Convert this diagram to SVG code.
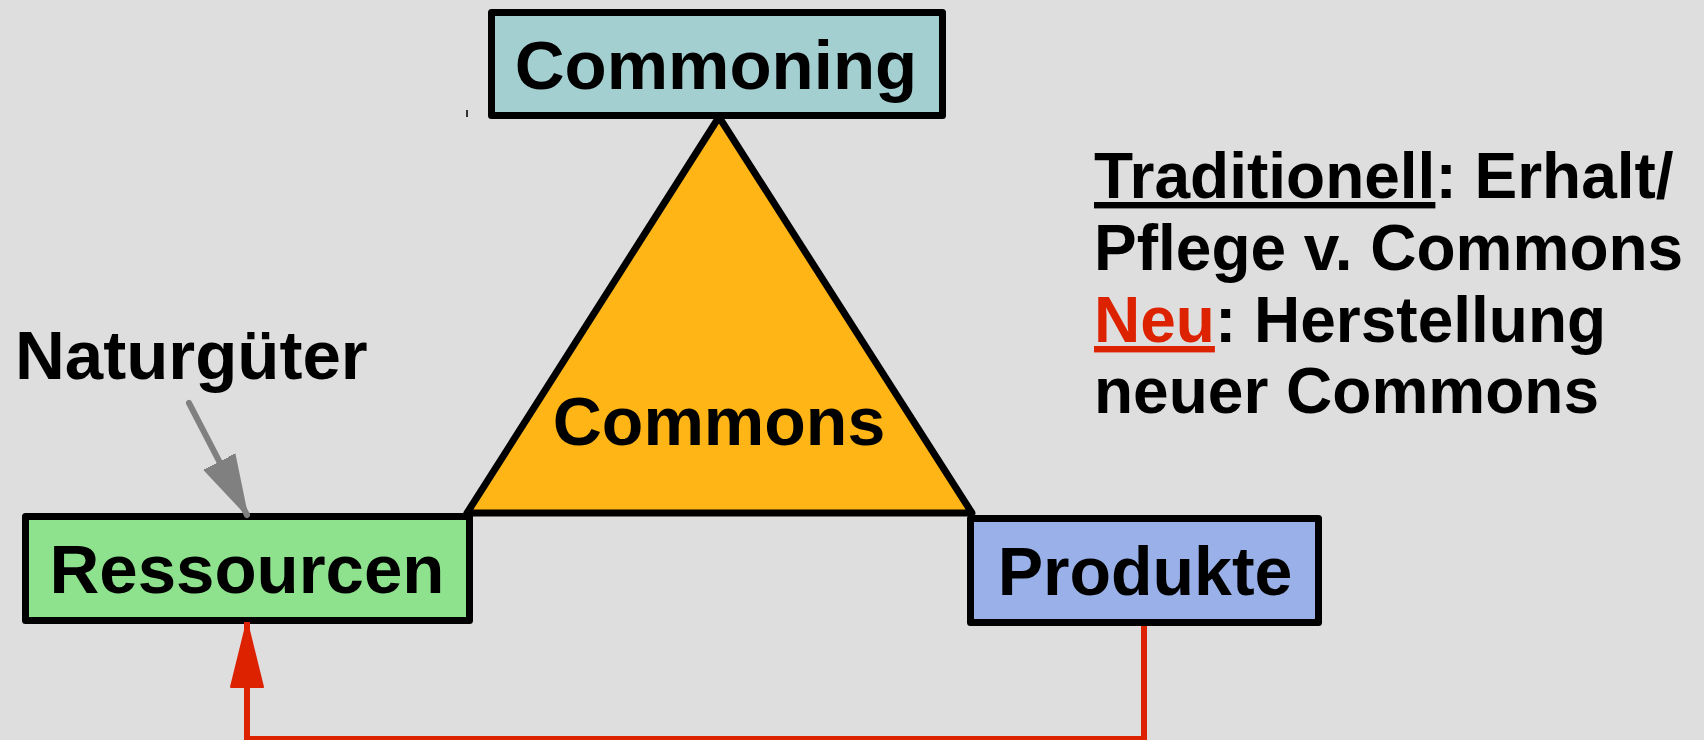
<svg xmlns="http://www.w3.org/2000/svg" width="1704" height="740" viewBox="0 0 1704 740">
<style>
.bg{fill:#dedede}
.box{stroke:#000;stroke-width:7;stroke-linejoin:round}
.lbl{font-family:"Liberation Sans",Arial,sans-serif;font-weight:bold;fill:#000}
.red{stroke:#dd2200;stroke-width:6;fill:none}
</style>
<defs>
<marker id="grayHead" markerUnits="userSpaceOnUse" viewBox="0 0 60 40" refX="60" refY="20" markerWidth="60" markerHeight="40" orient="auto">
<path d="M0,3 L60,20 L0,37 Z" fill="#808080" stroke="#808080" stroke-width="2" stroke-linejoin="round"/>
</marker>
<marker id="redHead" markerUnits="userSpaceOnUse" viewBox="0 0 66 34" refX="66" refY="17" markerWidth="66" markerHeight="34" orient="auto">
<path d="M1,1 L66,17 L1,33 Z" fill="#dd2200" stroke="#dd2200" stroke-width="2" stroke-linejoin="round"/>
</marker>
</defs>
<rect class="bg" x="0" y="0" width="1704" height="740"/>
<rect x="466" y="110" width="2" height="7" fill="#333"/>
<g id="commons">
<polygon points="719,117 467,513 972,513" fill="#feb515" stroke="#000" stroke-width="7" stroke-linejoin="round"/>
<text class="lbl" x="719" y="445" font-size="68" text-anchor="middle">Commons</text>
</g>
<g id="commoning">
<rect class="box" x="491.5" y="12.5" width="451" height="103" fill="#a3cfd1"/>
<text class="lbl" x="716" y="89" font-size="69" text-anchor="middle">Commoning</text>
</g>
<g id="ressourcen">
<rect class="box" x="25.5" y="516.5" width="444" height="104" fill="#8ee28e"/>
<text class="lbl" x="247" y="593" font-size="69" text-anchor="middle">Ressourcen</text>
</g>
<g id="produkte">
<rect class="box" x="970.5" y="518.5" width="348" height="104" fill="#99b1e8"/>
<text class="lbl" x="1145" y="595" font-size="68" text-anchor="middle">Produkte</text>
</g>
<g id="naturgueter">
<text class="lbl" x="15" y="379" font-size="69">Naturgüter</text>
</g>
<g id="notes">
<text class="lbl" x="1094" y="198" font-size="64"><tspan text-decoration="underline">Traditionell</tspan>: Erhalt/</text>
<text class="lbl" x="1094" y="270" font-size="64">Pflege v. Commons</text>
<text class="lbl" x="1094" y="342" font-size="64"><tspan fill="#dd2200" text-decoration="underline">Neu</tspan>: Herstellung</text>
<text class="lbl" x="1094" y="413" font-size="64">neuer Commons</text>
</g>
<g id="connectors">
<line x1="189" y1="403" x2="247" y2="515" stroke="#808080" stroke-width="6" stroke-linecap="round" marker-end="url(#grayHead)"/>
<polyline class="red" points="1144,626 1144,739 247,739 247,622" marker-end="url(#redHead)"/>
</g>
</svg>
